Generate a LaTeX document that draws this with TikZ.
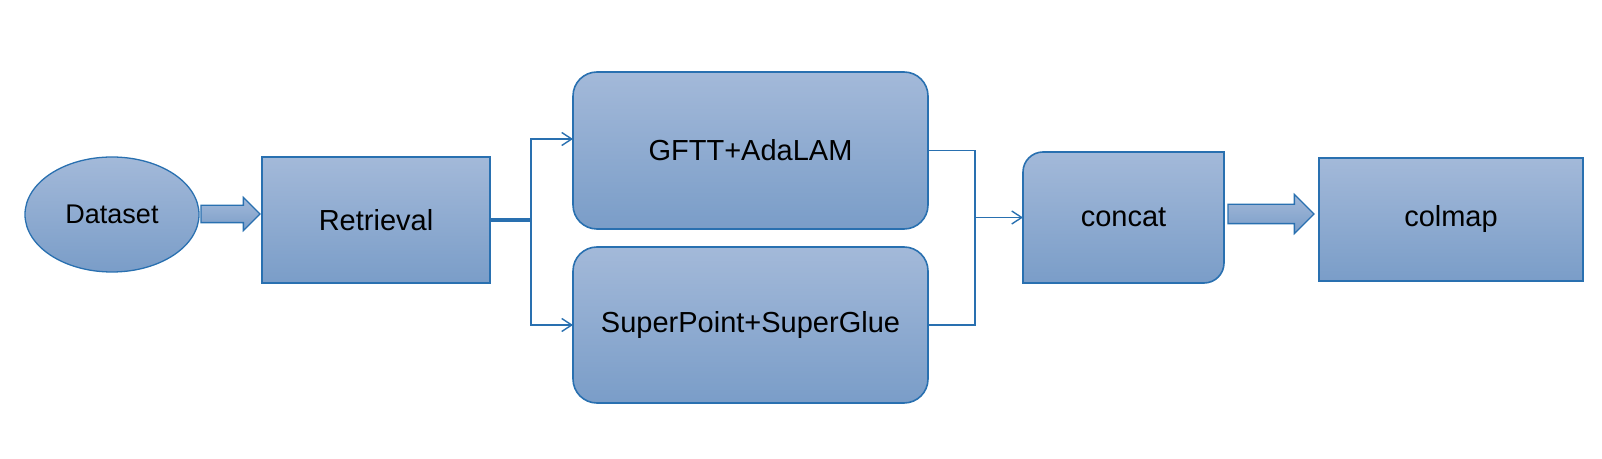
\documentclass[tikz,border=0pt]{standalone}
\usepackage{fontspec}
\setmainfont{Liberation Sans}
\usetikzlibrary{arrows.meta,shapes.geometric,shapes.arrows,backgrounds}
\definecolor{bd}{RGB}{41,112,176}
\definecolor{ft}{RGB}{163,185,217}
\definecolor{fb}{RGB}{122,157,200}
\tikzset{fillgr/.style={top color=ft,bottom color=fb},
 blk/.style={draw=bd,line width=1.6pt,fillgr,inner sep=0pt,outer sep=0pt},
 rblk/.style={blk,rounded corners=24pt},
 ell/.style={blk,ellipse,line width=1.3pt},
 fat/.style={single arrow,draw=bd,line width=1.3pt,fillgr,inner xsep=0pt,outer sep=0pt,minimum width=0pt,anchor=tail},
 wire/.style={draw=bd,line width=1.4pt},arr/.style={wire,-{Straight Barb[length=10pt,width=13pt,line width=1.4pt]}},
 every node/.style={font=\fontsize{29}{34}\selectfont}}
\begin{document}
\begin{tikzpicture}[x=1pt,y=1pt]
\useasboundingbox (0,0) rectangle (1602,458);
\node[ell,minimum width=174pt,minimum height=115pt,font=\fontsize{27}{32}\selectfont] (data) at (112,243.5) {Dataset};
\node[blk,minimum width=228pt,minimum height=126pt] (retr) at (376,238) {Retrieval};
\node[rblk,minimum width=355pt,minimum height=157pt] (gftt) at (750.5,307.5) {GFTT+AdaLAM};
\node[rblk,minimum width=355pt,minimum height=156pt] (spsg) at (750.5,133) {SuperPoint+SuperGlue};
\node[inner sep=0pt,outer sep=0pt,minimum width=201pt,minimum height=131pt] (cat) at (1123.5,240.5) {concat};
\node[blk,minimum width=264pt,minimum height=123pt] (cmap) at (1451,238.5) {colmap};
% concat: two rounded corners only
\begin{scope}[on background layer]
\draw[blk] (cat.south west) -- ([yshift=-20pt]cat.north west) arc[start angle=180,end angle=90,radius=20pt]
 -- (cat.north east) -- ([yshift=20pt]cat.south east) arc[start angle=0,end angle=-90,radius=20pt] -- cycle;
\end{scope}
% block arrows
\node[fat,minimum height=59pt,inner ysep=8pt,single arrow head extend=8pt] (f1) at (201,244) {};
\node[fat,minimum height=86pt,inner ysep=9pt,single arrow head extend=10pt] (f2) at (1228,244) {};
% split and merge
\coordinate (js) at (531,238);
\coordinate (jm) at (975,240.5);
\draw[arr] ([yshift=1pt]retr.east) -| ([yshift=1pt]js) |- ([yshift=11.5pt]gftt.west);
\draw[arr] ([yshift=-1pt]retr.east) -| ([yshift=-1pt]js) |- (spsg.west);
\draw[wire] (gftt.east) -| (jm) |- (spsg.east);
\draw[arr] (jm) -- (cat.west);
\end{tikzpicture}
\end{document}
